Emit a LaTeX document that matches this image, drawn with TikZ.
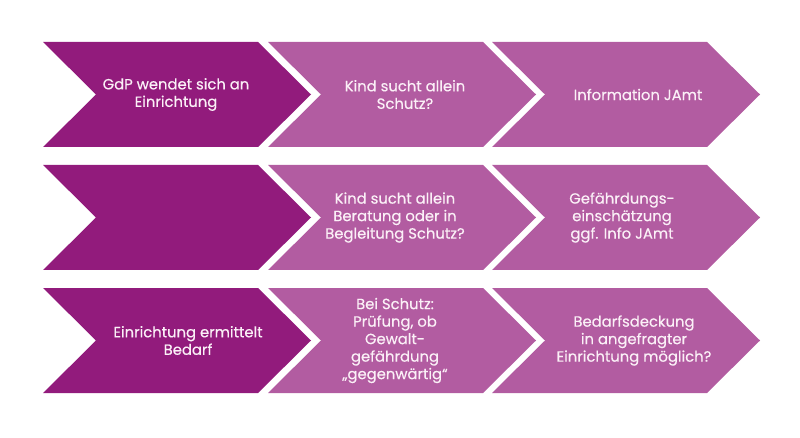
\documentclass[tikz,border=0pt]{standalone}
\usepackage{fontspec}
\setmainfont{Poppins}[FakeBold=0.4]
\definecolor{chdark}{HTML}{921B7C}
\definecolor{chlight}{HTML}{B25CA1}
\definecolor{chtxt}{HTML}{FBF0F7}
\newcommand\chevronshape[3]{\fill[#3] (#1,#2) -- ({#1+215},#2) -- ({#1+268},{#2+52.5}) -- ({#1+215},{#2+105}) -- (#1,{#2+105}) -- ({#1+53},{#2+52.5}) -- cycle;}
\begin{document}
\begin{tikzpicture}[x=1pt,y=-1pt,
  lbl/.style={text=chtxt, align=center, inner sep=0pt, font=\fontsize{14.8}{17.5}\selectfont}]
\useasboundingbox (0,0) rectangle (800,438);
% row 1
\chevronshape{43}{42}{chdark}
\chevronshape{268}{42}{chlight}
\chevronshape{492}{42}{chlight}
% row 2
\chevronshape{43}{165}{chdark}
\chevronshape{268}{165}{chlight}
\chevronshape{492}{165}{chlight}
% row 3
\chevronshape{43}{288}{chdark}
\chevronshape{268}{288}{chlight}
\chevronshape{492}{288}{chlight}
% labels
\node[lbl] (a1) at (176,94.5) {GdP wendet sich an\\Einrichtung};
\node[lbl] (b1) at (405,94.5) {Kind sucht allein\\Schutz?};
\node[lbl] (c1) at (638,94.5) {Information JAmt};
\node[lbl] (b2) at (395,217.5) {Kind sucht allein\\Beratung oder in\\Begleitung Schutz?};
\node[lbl] (c2) at (622,217.5) {Gefährdungs-\\einschätzung\\ggf. Info JAmt};
\node[lbl] (a3) at (188,340.5) {Einrichtung ermittelt\\Bedarf};
\node[lbl] (b3) at (395,340.5) {Bei Schutz:\\Prüfung, ob\\Gewalt-\\gefährdung\\„gegenwärtig“};
\node[lbl] (c3) at (634,340.5) {Bedarfsdeckung\\in angefragter\\Einrichtung möglich?};
\end{tikzpicture}
\end{document}
